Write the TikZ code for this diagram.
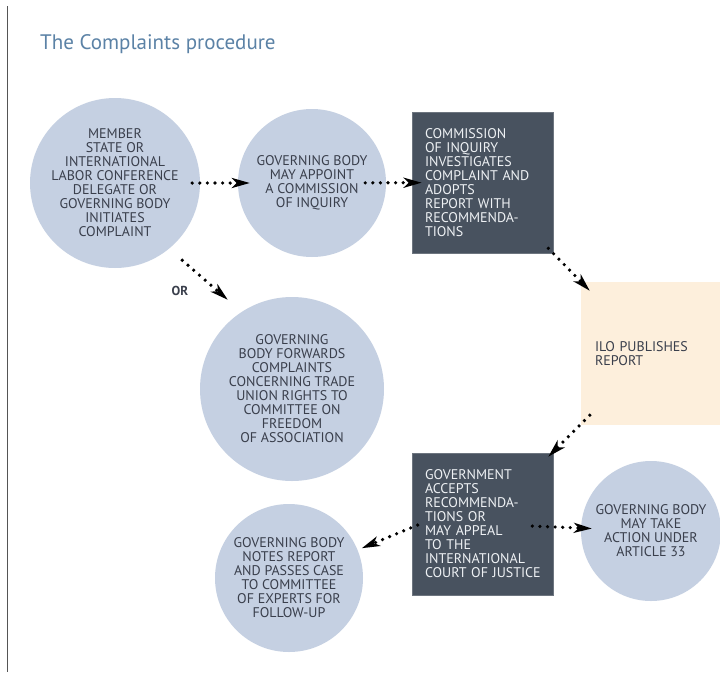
\documentclass[tikz,border=0pt]{standalone}
\usepackage{fontspec}
\setmainfont{PT Sans}
\usetikzlibrary{arrows.meta,calc}
\definecolor{circfill}{HTML}{C5D0E2}
\definecolor{boxfill}{HTML}{48525F}
\definecolor{ilofill}{HTML}{FDEFDC}
\definecolor{circtext}{HTML}{3A3F4C}
\definecolor{boxtext}{HTML}{EEF1F4}
\definecolor{titleblue}{HTML}{5B82A6}
\definecolor{rulegray}{HTML}{555555}
\hyphenpenalty=10000
\exhyphenpenalty=10000
\begin{document}
\begin{tikzpicture}[x=1pt,y=-1pt,
  txt/.style={font=\fontsize{14}{14}\selectfont},
  circ/.style={circle, fill=circfill, text=circtext, align=center, inner sep=0pt, txt},
  darkbox/.style={rectangle, fill=boxfill, draw=boxfill!80!white, line width=0.6pt, text=boxtext, align=left, inner xsep=13pt, inner ysep=0pt, text width=115pt, minimum width=141pt, minimum height=141pt, txt},
  ilobox/.style={rectangle, fill=ilofill, text=circtext, align=left, inner xsep=14pt, text width=111pt, minimum width=139pt, minimum height=143pt, txt},
  arr/.style={line width=3.6pt, dash pattern=on 0pt off 7.6pt, line cap=round, -{Stealth[length=18pt,width=10pt,inset=5pt]}}
]
\useasboundingbox (0,0) rectangle (720,672);
\fill[white] (0,0) rectangle (720,672);
\coordinate (ruletop) at (7,6);
\coordinate (rulebot) at (7,672);
\draw[rulegray, line width=1pt] (ruletop) -- (rulebot);
\node[anchor=base west, text=titleblue, font=\fontsize{21}{24}\selectfont, inner sep=0pt] (title) at (40,49) {The Complaints procedure};

\node[circ, minimum size=170pt] (c1) at (115,183) {MEMBER\\STATE OR\\INTERNATIONAL\\LABOR CONFERENCE\\DELEGATE OR\\GOVERNING BODY\\INITIATES\\COMPLAINT};
\node[circ, minimum size=148pt] (c2) at (312,183) {GOVERNING BODY\\MAY APPOINT\\A COMMISSION\\OF INQUIRY};
\node[darkbox] (b1) at (482.5,182.5) {COMMISSION\\OF INQUIRY\\INVESTIGATES\\COMPLAINT~AND\\ADOPTS\\REPORT WITH\\RECOMMENDA-\\TIONS};
\node[ilobox] (ilo) at (650.5,353.5) {ILO PUBLISHES\\REPORT};
\node[circ, minimum size=184pt] (c3) at (292,389) {GOVERNING\\BODY FORWARDS\\COMPLAINTS\\CONCERNING TRADE\\UNION RIGHTS TO\\COMMITTEE ON\\FREEDOM\\OF ASSOCIATION};
\node[darkbox, minimum height=142pt] (b2) at (482.5,524) {GOVERNMENT\\ACCEPTS\\RECOMMENDA-\\TIONS OR\\MAY APPEAL\\TO THE\\INTERNATIONAL\\COURT~OF~JUSTICE};
\node[circ, minimum size=148pt] (c4) at (289,578) {GOVERNING BODY\\NOTES REPORT\\AND PASSES CASE\\TO COMMITTEE\\OF EXPERTS FOR\\FOLLOW-UP};
\node[circ, minimum size=140pt] (c5) at (651,531) {GOVERNING BODY\\MAY TAKE\\ACTION UNDER\\ARTICLE 33};
\node[text=circtext, font=\fontsize{13}{14}\selectfont\bfseries, inner sep=0pt] (or) at (180,291) {OR};

\draw[arr, shorten <=-8pt, shorten >=-12pt] (c1) -- (c2);
\draw[arr, shorten <=-21pt, shorten >=-10pt] (c2) -- (b1);
\draw[arr] ([shift={(-5,-5)}]b1.south east) -- ([shift={(9,9)}]ilo.north west);
\draw[arr] ([shift={(9,-10)}]ilo.south west) -- ([shift={(-5,4)}]b2.north east);
\draw[arr] ([shift={(6,1)}]b2.west) -- ([shift={(4,-2)}]c4.22);
\draw[arr, shorten <=-21pt, shorten >=-11pt] (b2) -- (c5);
\draw[arr] ([shift={(7,17)}]c1.south east) -- ([shift={(1,-24)}]c3.north west);
\end{tikzpicture}
\end{document}
